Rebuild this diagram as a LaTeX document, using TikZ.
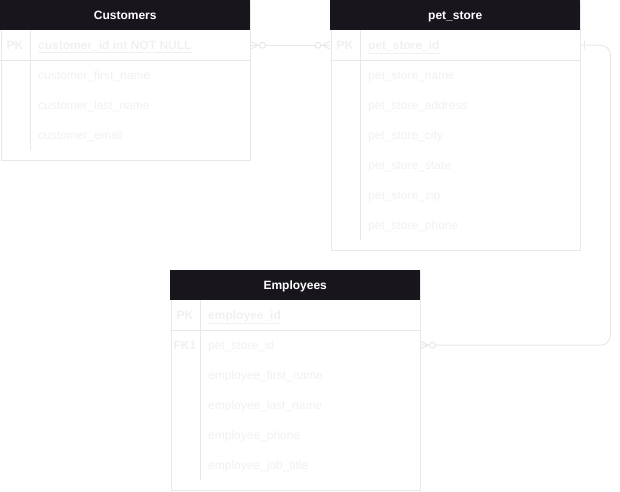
\documentclass[tikz,border=0pt]{standalone}
\usepackage{fontspec}
\setmainfont{Liberation Sans}
\usetikzlibrary{calc}
\definecolor{hdrc}{HTML}{18151D}
\definecolor{linec}{HTML}{E8E8E8}
\definecolor{txtc}{HTML}{F0F0F0}

\tikzset{
  tblbox/.style={draw=linec, line width=1pt, minimum width=249.5, anchor=north west, inner sep=0},
  hdr/.style={fill=hdrc, text=white, font=\fontsize{12}{14}\selectfont\bfseries,
    minimum width=250, minimum height=30, anchor=north west, inner sep=0,
    text height=9, text depth=0},
  rowbox/.style={minimum width=250, minimum height=30, anchor=north west, inner sep=0},
  keytxt/.style={text=txtc, font=\fontsize{12}{14}\selectfont\bfseries, inner sep=0,
    text height=9, text depth=0},
  fldtxt/.style={text=txtc, anchor=west, inner sep=0, text height=9, text depth=0},
  pktxt/.style={fldtxt, font=\fontsize{12}{14}\selectfont\bfseries},
  rule/.style={draw=linec, line width=1pt},
  conn/.style={draw=linec, line width=1pt},
  ringmark/.style={draw=linec, line width=1pt, fill=white},
}

\begin{document}
\begin{tikzpicture}[x=1pt, y=-1pt, font=\fontsize{12}{14}\selectfont]
\useasboundingbox (0,0) rectangle (620,491);

% ---------------- Customers ----------------
\node[tblbox, minimum height=159.5] (cust) at (0.5,0.5) {};
\node[hdr] (cust-h) at (0,0) {Customers};
\node[rowbox] (cust-pk) at (0,30) {};
\foreach \i in {1,2,3} \node[rowbox] (cust-r\i) at (0,30+30*\i) {};
\draw[rule] (cust-pk.south west) -- (cust-pk.south east);
\draw[rule] ($(cust-pk.north west)+(30,0)$) -- ($(cust-r3.south west)+(30,0)$);
\node[keytxt] at ($(cust-pk.west)+(15,0)$) {PK};
\node[pktxt] at ($(cust-pk.west)+(38,0)$) {\underline{customer\_id int NOT NULL}};
\node[fldtxt] at ($(cust-r1.west)+(38,0)$) {customer\_first\_name};
\node[fldtxt] at ($(cust-r2.west)+(38,0)$) {customer\_last\_name};
\node[fldtxt] at ($(cust-r3.west)+(38,0)$) {customer\_email};

% ---------------- pet_store ----------------
\node[tblbox, minimum height=249.5] (ps) at (330.5,0.5) {};
\node[hdr] (ps-h) at (330,0) {pet\_store};
\node[rowbox] (ps-pk) at (330,30) {};
\foreach \i in {1,...,6} \node[rowbox] (ps-r\i) at (330,30+30*\i) {};
\draw[rule] (ps-pk.south west) -- (ps-pk.south east);
\draw[rule] ($(ps-pk.north west)+(30,0)$) -- ($(ps-r6.south west)+(30,0)$);
\node[keytxt] at ($(ps-pk.west)+(15,0)$) {PK};
\node[pktxt] at ($(ps-pk.west)+(38,0)$) {\underline{pet\_store\_id}};
\node[fldtxt] at ($(ps-r1.west)+(38,0)$) {pet\_store\_name};
\node[fldtxt] at ($(ps-r2.west)+(38,0)$) {pet\_store\_address};
\node[fldtxt] at ($(ps-r3.west)+(38,0)$) {pet\_store\_city};
\node[fldtxt] at ($(ps-r4.west)+(38,0)$) {pet\_store\_state};
\node[fldtxt] at ($(ps-r5.west)+(38,0)$) {pet\_store\_zip};
\node[fldtxt] at ($(ps-r6.west)+(38,0)$) {pet\_store\_phone};

% ---------------- Employees ----------------
\node[tblbox, minimum height=219.5] (emp) at (170.5,270.5) {};
\node[hdr] (emp-h) at (170,270) {Employees};
\node[rowbox] (emp-pk) at (170,300) {};
\node[rowbox] (emp-fk) at (170,330) {};
\foreach \i in {1,...,4} \node[rowbox] (emp-r\i) at (170,330+30*\i) {};
\draw[rule] (emp-pk.south west) -- (emp-pk.south east);
\draw[rule] ($(emp-pk.north west)+(30,0)$) -- ($(emp-r4.south west)+(30,0)$);
\node[keytxt] at ($(emp-pk.west)+(15,0)$) {PK};
\node[pktxt] at ($(emp-pk.west)+(38,0)$) {\underline{employee\_id}};
\node[keytxt] at ($(emp-fk.west)+(15,0)$) {FK1};
\node[fldtxt] at ($(emp-fk.west)+(38,0)$) {pet\_store\_id};
\node[fldtxt] at ($(emp-r1.west)+(38,0)$) {employee\_first\_name};
\node[fldtxt] at ($(emp-r2.west)+(38,0)$) {employee\_last\_name};
\node[fldtxt] at ($(emp-r3.west)+(38,0)$) {employee\_phone};
\node[fldtxt] at ($(emp-r4.west)+(38,0)$) {employee\_job\_title};

% ---------------- Relationships ----------------
% Customers (zero or many) -- pet_store (zero or many)
\draw[conn] (cust-pk.east) -- (ps-pk.west);
\draw[conn] ($(cust-pk.east)+(0,-4)$) -- ($(cust-pk.east)+(8,0)$) -- ($(cust-pk.east)+(0,4)$);
\draw[ringmark] ($(cust-pk.east)+(12,0)$) circle[radius=3];
\draw[conn] ($(ps-pk.west)+(0,-4)$) -- ($(ps-pk.west)+(-8,0)$) -- ($(ps-pk.west)+(0,4)$);
\draw[ringmark] ($(ps-pk.west)+(-12,0)$) circle[radius=3];

% pet_store (one) -- Employees (zero or many)
\coordinate (bend) at ($(ps-pk.east)+(30,0)$);
\draw[conn, rounded corners=10] (ps-pk.east) -- (bend) |- (emp-fk.east);
\draw[conn] ($(ps-pk.east)+(4,-4)$) -- ($(ps-pk.east)+(4,4)$);
\draw[conn] ($(emp-fk.east)+(0,-4)$) -- ($(emp-fk.east)+(8,0)$) -- ($(emp-fk.east)+(0,4)$);
\draw[ringmark] ($(emp-fk.east)+(12,0)$) circle[radius=3];
\end{tikzpicture}
\end{document}
